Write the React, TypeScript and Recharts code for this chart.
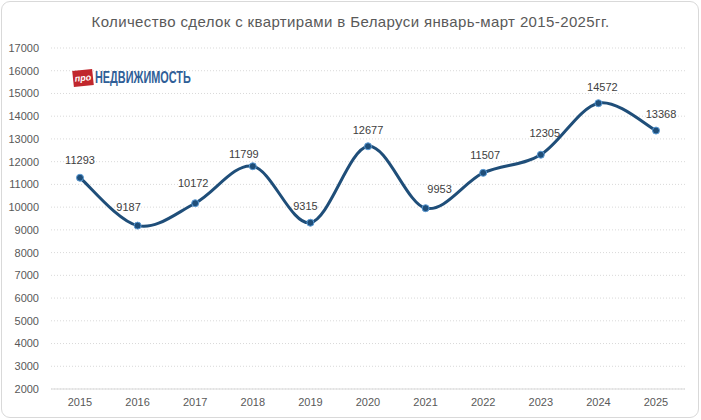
import React from "react";
import { LineChart, Line, XAxis, YAxis, CartesianGrid, LabelList } from "recharts";

const years = ["2015", "2016", "2017", "2018", "2019", "2020", "2021", "2022", "2023", "2024", "2025"];
const deals = [11293, 9187, 10172, 11799, 9315, 12677, 9953, 11507, 12305, 14572, 13368];
const yTicks = [2000, 3000, 4000, 5000, 6000, 7000, 8000, 9000, 10000, 11000, 12000, 13000, 14000, 15000, 16000, 17000];
const title = "Количество сделок с квартирами в Беларуси январь-март 2015-2025гг.";

const labelDx = [0, -9, -2, -9, -5, 0, 14, 2, 4, 4, 5];
const labelDy = [-18, -19, -20, -12, -17, -16, -19, -18, -22, -16, -17];

const data = years.map((y, i) => ({ year: y, value: deals[i] }));

const excelSmooth: any = (context: any) => {
  let pts: number[][] = [];
  return {
    areaStart() {},
    areaEnd() {},
    lineStart() {
      pts = [];
    },
    point(x: number, y: number) {
      pts.push([+x, +y]);
    },
    lineEnd() {
      if (!pts.length) return;
      context.moveTo(pts[0][0], pts[0][1]);
      const k = 1 / 6;
      for (let i = 0; i < pts.length - 1; i++) {
        const p0 = pts[i - 1] || pts[i];
        const p1 = pts[i];
        const p2 = pts[i + 1];
        const p3 = pts[i + 2] || pts[i + 1];
        context.bezierCurveTo(
          p1[0] + k * (p2[0] - p0[0]),
          p1[1] + k * (p2[1] - p0[1]),
          p2[0] - k * (p3[0] - p1[0]),
          p2[1] - k * (p3[1] - p1[1]),
          p2[0],
          p2[1]
        );
      }
    },
  };
};

const font = "'Liberation Sans', Arial, sans-serif";

const renderLabel = (props: any) => {
  const { x, y, index, value } = props;
  return (
    <text
      x={x + labelDx[index]}
      y={y + labelDy[index]}
      textAnchor="middle"
      dominantBaseline="central"
      fontFamily={font}
      fontSize={11}
      fill="#404040"
    >
      {value}
    </text>
  );
};

export default function App() {
  return (
    <div style={{ position: "fixed", left: 0, top: 0, width: 701, height: 420, background: "#fff", fontFamily: font }}>
      <div
        style={{
          position: "absolute",
          left: 1,
          top: 1,
          width: 698,
          height: 417,
          border: "1px solid #d9d9d9",
          borderRadius: 9,
          boxSizing: "border-box",
        }}
      />
      <div
        style={{
          position: "absolute",
          left: 0,
          top: 13,
          width: 701,
          textAlign: "center",
          fontSize: 15,
          letterSpacing: 0.38,
          color: "#595959",
          fontFamily: font,
        }}
      >
        {title}
      </div>
      <LineChart width={701} height={420} data={data} margin={{ top: 48, right: 16, bottom: 6, left: 0 }}>
        <CartesianGrid vertical={false} stroke="#d9d9d9" strokeDasharray="1 2" />
        <XAxis
          dataKey="year"
          axisLine={{ stroke: "#d9d9d9" }}
          tickLine={false}
          tickSize={6}
          tickMargin={3}
          height={25}
          padding={{ left: 29, right: 29 }}
          tick={{ fontSize: 11, fill: "#595959", fontFamily: font }}
        />
        <YAxis
          domain={[2000, 17000]}
          ticks={yTicks}
          axisLine={false}
          tickLine={false}
          tickSize={6}
          tickMargin={6}
          width={51}
          interval={0}
          tick={{ fontSize: 11, fill: "#595959", fontFamily: font }}
        />
        <Line
          dataKey="value"
          type={excelSmooth}
          stroke="#1f4e79"
          strokeWidth={3}
          dot={{ r: 3.5, fill: "#1f4e79", stroke: "#5b9bd5", strokeWidth: 1 }}
          activeDot={false}
          isAnimationActive={false}
        >
          <LabelList dataKey="value" content={renderLabel} />
        </Line>
      </LineChart>
      <div
        style={{
          position: "absolute",
          left: 73,
          top: 70,
          width: 20,
          height: 16,
          background: "#c1272d",
          transform: "rotate(-6deg)",
          color: "#fff",
          fontSize: 9,
          fontWeight: "bold",
          lineHeight: "16px",
          textAlign: "center",
          fontStyle: "italic",
        }}
      >
        про
      </div>
      <div
        style={{
          position: "absolute",
          left: 95,
          top: 67,
          fontFamily: "'Liberation Sans Narrow', 'Liberation Sans', sans-serif",
          fontWeight: "bold",
          fontSize: 17,
          lineHeight: "22px",
          color: "#2f5e97",
          transform: "scaleX(0.64)",
          transformOrigin: "left center",
          whiteSpace: "nowrap",
        }}
      >
        НЕДВИЖИМОСТЬ
      </div>
    </div>
  );
}
